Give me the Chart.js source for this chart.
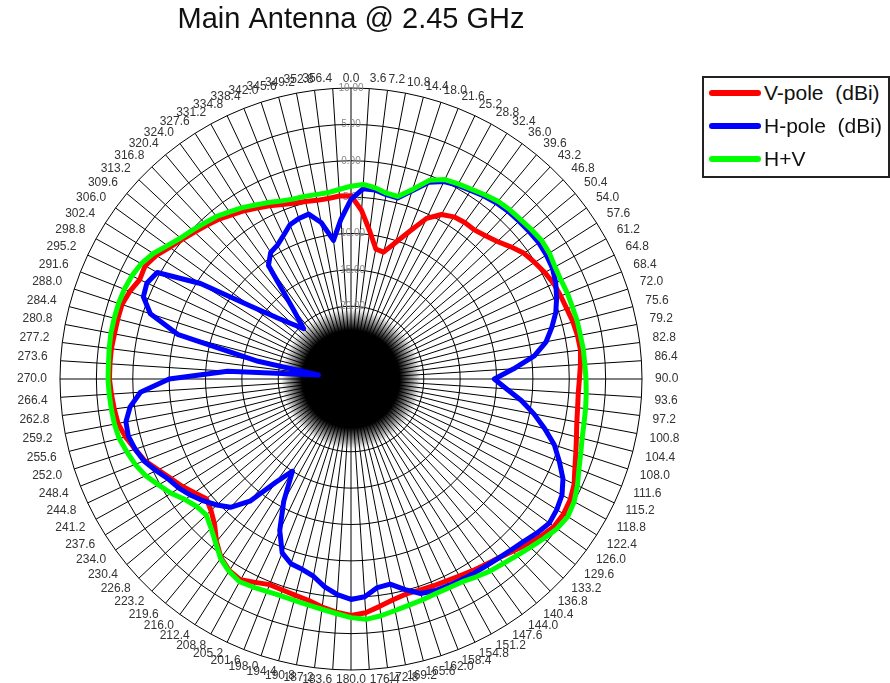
<!DOCTYPE html>
<html>
<head>
<meta charset="utf-8">
<title>Main Antenna @ 2.45 GHz</title>
<script src="https://cdn.jsdelivr.net/npm/chart.js@4.4.0/dist/chart.umd.min.js"></script>
<style>
body{margin:0;background:#fff;}
#wrap{position:relative;width:890px;height:683px;}
#legend{position:absolute;left:702px;top:76px;width:188px;height:102px;box-sizing:border-box;border:2px solid #222;background:#fff;font-family:"Liberation Sans",Arial,sans-serif;font-size:21px;color:#111;}
.item{position:absolute;left:0;height:24px;line-height:24px;white-space:pre;}
.item .line{position:absolute;left:5px;top:9px;width:52px;height:6px;border-radius:3px;}
.item .txt{position:absolute;left:60px;top:0;}
</style>
</head>
<body>
<div id="wrap">
<canvas id="myChart" width="890" height="683"></canvas>
<div id="legend"></div>
</div>
<script>
let angles = ['0.0','3.6','7.2','10.8','14.4','18.0','21.6','25.2','28.8','32.4',
  '36.0','39.6','43.2','46.8','50.4','54.0','57.6','61.2','64.8','68.4',
  '72.0','75.6','79.2','82.8','86.4','90.0','93.6','97.2','100.8','104.4',
  '108.0','111.6','115.2','118.8','122.4','126.0','129.6','133.2','136.8','140.4',
  '144.0','147.6','151.2','154.8','158.4','162.0','165.6','169.2','172.8','176.4',
  '180.0','183.6','187.2','190.8','194.4','198.0','201.6','205.2','208.8','212.4',
  '216.0','219.6','223.2','226.8','230.4','234.0','237.6','241.2','244.8','248.4',
  '252.0','255.6','259.2','262.8','266.4','270.0','273.6','277.2','280.8','284.4',
  '288.0','291.6','295.2','298.8','302.4','306.0','309.6','313.2','316.8','320.4',
  '324.0','327.6','331.2','334.8','338.4','342.0','345.6','349.2','352.8','356.4'];

// dBi
let vPole = [-4.8,-6.8,-9.5,-11.8,-12.0,-10.3,-8.2,-5.6,-4.2,-3.6,
  -3.4,-3.4,-3.0,-2.4,-1.5,-0.6,-0.1,0.4,0.8,1.0,
  1.2,1.5,1.7,1.8,1.6,1.4,1.3,1.4,1.6,2.0,
  2.5,3.1,3.9,4.4,4.6,4.5,3.9,3.2,2.5,1.9,
  1.5,1.2,0.9,0.7,0.6,0.5,0.5,0.9,1.5,2.2,
  2.5,2.1,1.6,1.0,0.7,0.5,0.4,0.9,1.5,1.2,
  0.4,-1.0,-2.6,-3.6,-4.2,-3.4,-2.5,-1.7,-0.7,0.5,
  1.2,2.0,2.6,2.8,3.0,3.2,3.2,3.2,3.1,3.1,
  3.1,2.7,2.1,2.3,1.7,0.8,0.1,-0.5,-1.0,-1.5,
  -2.1,-2.6,-3.2,-3.7,-4.2,-4.6,-4.8,-5.0,-5.0,-4.8];

let hPole = [-5.3,-3.8,-3.8,-4.2,-4.3,-2.8,-0.9,0.0,0.4,0.7,
  1.1,1.4,1.6,1.7,1.8,1.9,1.8,1.6,1.1,0.4,
  -0.4,-1.5,-2.7,-4.6,-7.6,-10.3,-8.6,-6.4,-4.4,-2.5,
  -0.6,0.8,2.2,3.1,3.5,3.7,3.2,2.6,2.2,1.9,
  1.7,1.6,1.5,1.4,1.3,1.0,-0.1,-1.3,-1.1,0.0,
  0.3,-0.3,-1.2,-2.4,-3.0,-3.3,-4.3,-7.0,-10.8,-15.0,
  -12.5,-8.2,-5.8,-4.7,-3.7,-2.8,-2.0,-1.4,-0.4,0.6,
  1.2,1.6,1.5,0.6,-1.0,-5.0,-13.0,-25.5,-17.0,-5.5,
  -1.0,0.7,1.0,0.4,-5.5,-13.0,-16.8,-19.0,-20.5,-17.5,
  -10.7,-9.4,-9.0,-8.2,-7.2,-6.8,-6.6,-8.1,-10.8,-8.0];

let hPlusV = [-3.5,-3.2,-3.5,-4.0,-4.1,-2.6,-0.6,0.3,0.6,0.9,
  1.3,1.7,1.9,2.0,2.2,2.4,2.3,2.0,1.9,2.0,
  2.0,2.1,2.1,2.2,2.2,2.3,2.4,2.5,2.6,2.8,
  3.2,3.7,4.4,5.0,5.3,5.0,4.4,3.8,3.3,2.9,
  2.6,2.2,1.8,1.7,1.7,1.9,2.1,2.4,2.8,3.1,
  2.8,2.3,1.9,1.6,1.4,1.3,1.4,1.6,1.8,1.3,
  0.5,-0.8,-1.9,-2.7,-2.5,-1.8,-0.7,0.2,1.2,1.9,
  2.4,2.9,3.1,3.2,3.3,3.4,3.4,3.5,3.6,3.6,
  3.6,3.5,3.3,2.9,2.2,1.2,0.4,-0.1,-0.6,-1.0,
  -1.6,-2.1,-2.7,-3.2,-3.7,-4.0,-4.1,-4.2,-4.2,-3.9];

let seriesNames = ['V-pole  (dBi)', 'H-pole  (dBi)', 'H+V'];
let seriesColors = ['#ff0000', '#0000ff', '#00ff00'];
let rMin = -30, rMax = 10, rStep = 5;

const font = 'Liberation Sans';

const data = {
  labels: angles,
  datasets: [
    {label: seriesNames[0], data: vPole, borderColor: seriesColors[0], order: 2},
    {label: seriesNames[1], data: hPole, borderColor: seriesColors[1], order: 1},
    {label: seriesNames[2], data: hPlusV, borderColor: seriesColors[2], order: 0}
  ]
};

// labels sit close to the ring at top/bottom, a bit further out at the sides
function labelPad(ctx) {
  let a = ctx.index * 2 * Math.PI / angles.length;
  return 1.5 + 6.5 * Math.abs(Math.sin(a));
}

// the 100 spokes run together into a dark patch round the centre
const centerShade = {
  id: 'centerShade',
  beforeDatasetsDraw(chart) {
    const s = chart.scales.r;
    const ctx = chart.ctx;
    const r = s.drawingArea * 0.24;
    const g = ctx.createRadialGradient(s.xCenter, s.yCenter, 0, s.xCenter, s.yCenter, r);
    g.addColorStop(0, 'rgba(0,0,0,1)');
    g.addColorStop(0.7, 'rgba(0,0,0,1)');
    g.addColorStop(1, 'rgba(0,0,0,0)');
    ctx.save();
    ctx.fillStyle = g;
    ctx.beginPath();
    ctx.arc(s.xCenter, s.yCenter, r, 0, 2 * Math.PI);
    ctx.fill();
    ctx.restore();
  }
};

const config = {
  type: 'radar',
  data,
  plugins: [centerShade],
  options: {
    responsive: false,
    animation: false,
    devicePixelRatio: 1,
    layout: {padding: {top: 0, left: 0, right: 188, bottom: 0}},
    elements: {
      line: {borderWidth: 5, tension: 0, fill: false, borderJoinStyle: 'round', borderCapStyle: 'round'},
      point: {radius: 0, hitRadius: 0}
    },
    scales: {
      r: {
        min: rMin,
        max: rMax,
        startAngle: 0,
        grid: {color: '#000', lineWidth: 1, circular: false},
        angleLines: {color: '#000', lineWidth: 1},
        ticks: {
          stepSize: rStep,
          showLabelBackdrop: false,
          backdropPadding: 0,
          color: '#888',
          font: {family: font, size: 10},
          callback: v => v.toFixed(2)
        },
        pointLabels: {
          color: '#333',
          padding: labelPad,
          font: {family: font, size: 12, lineHeight: 0.5}
        }
      }
    },
    plugins: {
      legend: {display: false},
      tooltip: {enabled: false},
      title: {
        display: true,
        text: 'Main Antenna @ 2.45 GHz',
        color: '#111',
        font: {family: font, size: 29, weight: 'normal'},
        padding: {top: 3, bottom: 37.7}
      }
    }
  }
};

var myChart = new Chart(document.getElementById('myChart'), config);

// legend box on the right
const legend = document.querySelector('#legend');
myChart.data.datasets.forEach((ds, i) => {
  legend.innerHTML += `
  <div class="item" style="top:${3 + i * 33}px">
    <span class="line" style="background:${ds.borderColor}"></span>
    <span class="txt">${ds.label}</span>
  </div>`;
});
</script>
</body>
</html>
